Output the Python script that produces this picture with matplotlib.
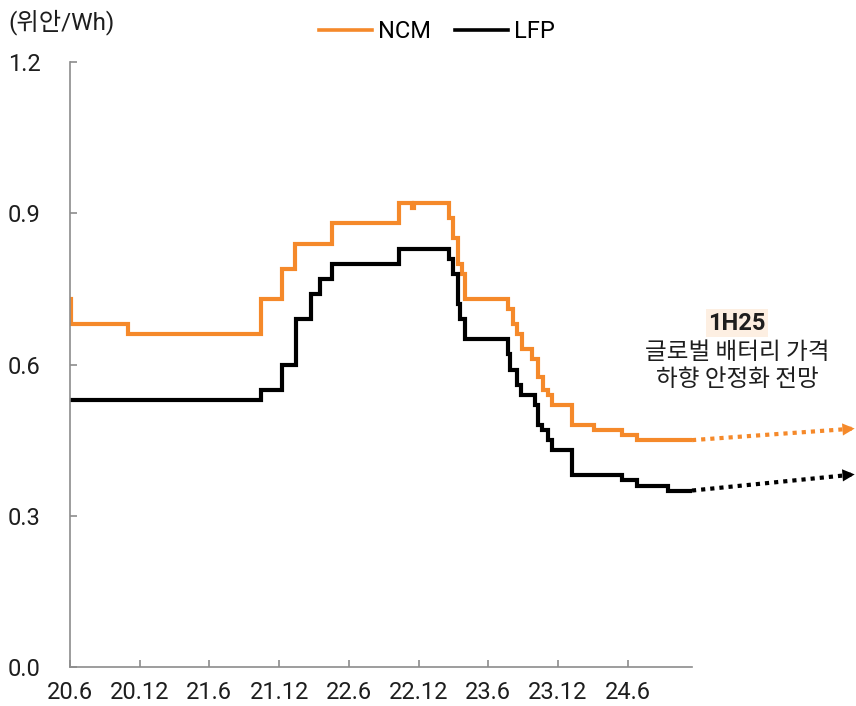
import pandas as pd
import matplotlib.pyplot as plt
import matplotlib.dates as mdates

plt.rcParams['font.family'] = ['Roboto', 'Noto Sans CJK KR', 'DejaVu Sans']

# battery cell prices (yuan/Wh), step data
ncm_dates = ['2020-06-01', '2020-06-04', '2020-11-01', '2021-10-13', '2021-12-07',
             '2022-01-10', '2022-04-19', '2022-10-10', '2022-11-13', '2022-11-19',
             '2023-02-19', '2023-02-28', '2023-03-13', '2023-03-25', '2023-04-01',
             '2023-07-22', '2023-08-04', '2023-08-16', '2023-08-28', '2023-09-25',
             '2023-10-10', '2023-10-22', '2023-11-04', '2023-11-16', '2024-01-07',
             '2024-03-04', '2024-05-16', '2024-06-25', '2024-11-16']
ncm_vals = [0.73, 0.68, 0.66, 0.73, 0.79,
            0.84, 0.88, 0.92, 0.91, 0.92,
            0.89, 0.85, 0.80, 0.78, 0.73,
            0.71, 0.68, 0.66, 0.63, 0.61,
            0.575, 0.55, 0.54, 0.52, 0.48,
            0.47, 0.46, 0.45, 0.45]

lfp_dates = ['2020-06-01', '2021-10-13', '2021-12-07', '2022-01-13', '2022-02-22',
             '2022-03-19', '2022-04-19', '2022-10-10', '2023-02-19', '2023-03-01',
             '2023-03-13', '2023-03-19', '2023-04-01', '2023-07-22', '2023-07-28',
             '2023-08-16', '2023-08-25', '2023-10-01', '2023-10-10', '2023-10-19',
             '2023-11-04', '2023-11-16', '2024-01-07', '2024-05-16', '2024-06-25',
             '2024-09-13', '2024-11-16']
lfp_vals = [0.53, 0.55, 0.60, 0.69, 0.74,
            0.77, 0.80, 0.83, 0.81, 0.78,
            0.72, 0.69, 0.65, 0.62, 0.59,
            0.56, 0.54, 0.52, 0.48, 0.47,
            0.45, 0.43, 0.38, 0.37, 0.36,
            0.35, 0.35]

# outlook arrows
outlook_date = '2026-01-16'
ncm_outlook = 0.473
lfp_outlook = 0.382

tick_dates = ['2020-06-01', '2020-12-01', '2021-06-01', '2021-12-01', '2022-06-01',
              '2022-12-01', '2023-06-01', '2023-12-01', '2024-06-01']
tick_labels = ['20.6', '20.12', '21.6', '21.12', '22.6', '22.12', '23.6', '23.12', '24.6']

orange = '#F5892A'
black = '#000000'
axis_grey = '#8C8C8C'
txt = '#1E1E1E'

fig = plt.figure(figsize=(8.56, 7.06), dpi=100)
ax = fig.add_axes([70/856, 39/706, 622/856, 605/706])

ncm_x = pd.to_datetime(ncm_dates)
lfp_x = pd.to_datetime(lfp_dates)
ax.plot(ncm_x, ncm_vals, drawstyle='steps-post', color=orange, lw=3, label='NCM',
        solid_joinstyle='miter')
ax.plot(lfp_x, lfp_vals, drawstyle='steps-post', color=black, lw=3, label='LFP',
        solid_joinstyle='miter')

# dotted outlook lines beyond the axis
out_x = pd.to_datetime(outlook_date)
for xs, ys, c, yo in [(ncm_x, ncm_vals, orange, ncm_outlook),
                      (lfp_x, lfp_vals, black, lfp_outlook)]:
    x0, y0 = xs[-1], ys[-1]
    ax.plot([x0, out_x], [y0, yo], ls=(0, (1, 1.2)), lw=3, color=c, clip_on=False)
    ax.annotate('', xy=(mdates.date2num(out_x), yo),
                xytext=(mdates.date2num(out_x) - 12, yo - 0.0007),
                arrowprops=dict(arrowstyle='-|>', color=c, lw=0, mutation_scale=22),
                annotation_clip=False)

ax.set_xlim(pd.to_datetime('2020-06-01'), pd.to_datetime('2024-11-16'))
ax.set_ylim(0, 1.2)
ax.set_yticks([0, 0.3, 0.6, 0.9, 1.2])
ax.set_yticklabels(['0.0', '0.3', '0.6', '0.9', '1.2'])
ax.set_xticks(pd.to_datetime(tick_dates))
ax.set_xticklabels(tick_labels)

for s in ['top', 'right']:
    ax.spines[s].set_visible(False)
for s in ['left', 'bottom']:
    ax.spines[s].set_color(axis_grey)
    ax.spines[s].set_linewidth(1.2)
ax.tick_params(axis='both', direction='in', length=5, width=1.2, color=axis_grey,
               labelsize=17, labelcolor=txt)
ax.tick_params(axis='y', pad=21)
ax.tick_params(axis='x', pad=10)

fig.text(8/856, 1 - 22/706, '(위안/Wh)', fontsize=17.5, color=txt, va='center', ha='left')

leg = ax.legend(loc='center', bbox_to_anchor=(437/856, 1 - 32/706),
                bbox_transform=fig.transFigure, ncol=2, frameon=False, fontsize=17,
                handlelength=2.25, columnspacing=1.0, handletextpad=0.25)
for h in leg.get_lines():
    h.set_linewidth(2.6)

fig.text(737/856, 1 - 323/706, '1H25', fontsize=17, fontweight='bold', ha='center',
         va='center', color=txt,
         bbox=dict(facecolor='#FDEFE2', edgecolor='none', pad=1.5))
fig.text(737/856, 1 - 366/706, '글로벌 배터리 가격\n하향 안정화 전망', fontsize=17,
         ha='center', va='center', color=txt, linespacing=1.2,
         family=['Noto Sans CJK KR', 'DejaVu Sans'])

fig.savefig('out.png', dpi=100)
